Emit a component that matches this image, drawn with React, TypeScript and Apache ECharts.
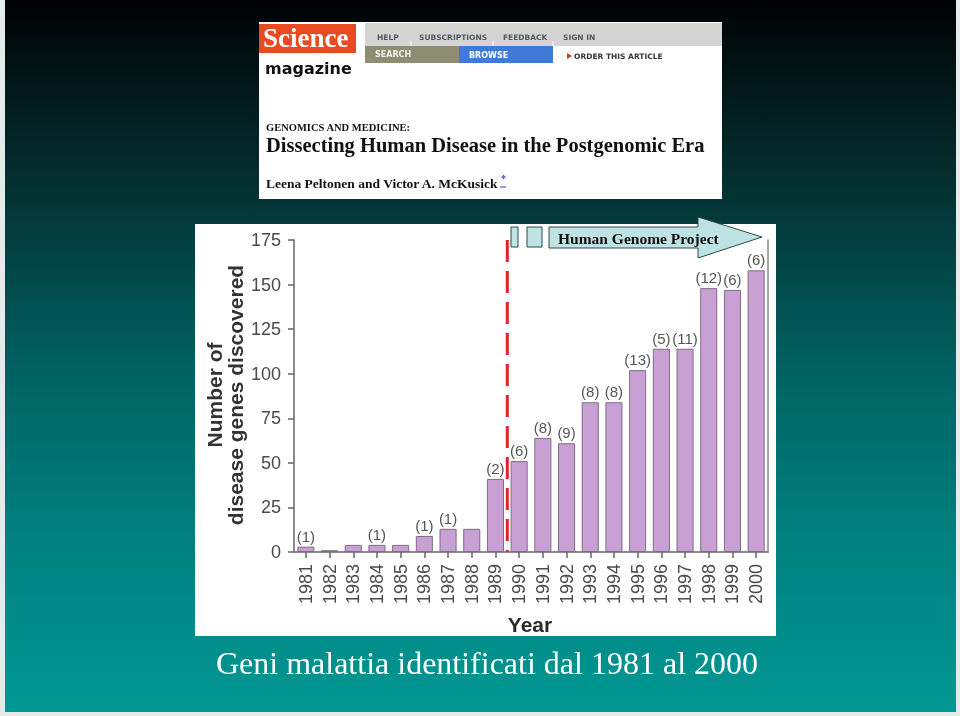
import React, { useEffect, useRef } from "react";
import * as echarts from "echarts";

// ---- data ----
const years = [
  "1981", "1982", "1983", "1984", "1985", "1986", "1987", "1988", "1989", "1990",
  "1991", "1992", "1993", "1994", "1995", "1996", "1997", "1998", "1999", "2000",
];
const genesDiscovered = [3, 1, 4, 4, 4, 9, 13, 13, 41, 51, 64, 61, 84, 84, 102, 114, 114, 148, 147, 158];
const bracketCounts: (number | null)[] = [1, null, null, 1, null, 1, 1, null, 2, 6, 8, 9, 8, 8, 13, 5, 11, 12, 6, 6];
const yMin = 0;
const yMax = 175;
const yInterval = 25;
const hgpBoundaryIndex = 9; // boundary between 1989 and 1990
const yAxisTitle = "Number of\ndisease genes discovered";
const xAxisTitle = "Year";
const hgpLabel = "Human Genome Project";
const slideTitle = "Geni malattia identificati dal 1981 al 2000";
const navItems = ["HELP", "SUBSCRIPTIONS", "FEEDBACK", "SIGN IN"];

const SANS = '"Liberation Sans", Arial, Helvetica, sans-serif';
const SERIF = '"Liberation Serif", "Times New Roman", serif';

export default function App() {
  const ref = useRef<HTMLDivElement>(null);

  useEffect(() => {
    if (!ref.current) return;
    const chart = echarts.init(ref.current, undefined, { renderer: "svg", width: 960, height: 716 });

    const navX = [377, 419, 503, 563];

    const graphic: any[] = [
      // slide frame + gradient background
      { type: "rect", z: -20, silent: true, shape: { x: 0, y: 0, width: 960, height: 716 }, style: { fill: "#e3ebeb" } },
      {
        type: "rect", z: -19, silent: true,
        shape: { x: 5, y: 0, width: 951, height: 712 },
        style: {
          fill: new echarts.graphic.LinearGradient(0, 0, 0, 1, [
            { offset: 0, color: "#000203" },
            { offset: 0.25, color: "#042e2f" },
            { offset: 0.5, color: "#015e5e" },
            { offset: 0.75, color: "#00807f" },
            { offset: 1, color: "#009792" },
          ]),
        },
      },
      // chart white panel
      { type: "rect", z: -18, silent: true, shape: { x: 195, y: 224, width: 581, height: 412 }, style: { fill: "#ffffff" } },

      // header (Science magazine)
      { type: "rect", z: -18, shape: { x: 259, y: 22, width: 463, height: 177 }, style: { fill: "#ffffff" } },
      { type: "rect", shape: { x: 259, y: 24, width: 97, height: 29 }, style: { fill: "#ea4a1f" } },
      { type: "text", x: 263, y: 38, style: { text: "Science", fill: "#ffffff", font: `bold 27px ${SERIF}`, align: "left", verticalAlign: "middle" } },
      { type: "rect", shape: { x: 365, y: 23, width: 357, height: 23 }, style: { fill: "#d4d4d4" } },
      { type: "rect", shape: { x: 365, y: 46, width: 94, height: 17 }, style: { fill: "#8f8c72" } },
      { type: "rect", shape: { x: 459, y: 46, width: 94, height: 17 }, style: { fill: "#3f7ad8" } },
      ...[411, 493, 553].map((x) => ({ type: "line", shape: { x1: x, y1: 41, x2: x, y2: 46 }, style: { stroke: "#ffffff", lineWidth: 1 } })),
      ...navItems.map((t, i) => ({
        type: "text", x: navX[i], y: 37.5,
        style: { text: t, fill: "#55585a", font: `bold 7.5px "DejaVu Sans", ${SANS}`, align: "left", verticalAlign: "middle" },
      })),
      { type: "text", x: 375, y: 54.5, style: { text: "SEARCH", fill: "#f2f2ea", font: `bold 8px "DejaVu Sans", ${SANS}`, align: "left", verticalAlign: "middle" } },
      { type: "text", x: 469, y: 55, style: { text: "BROWSE", fill: "#ffffff", font: `bold 8px "DejaVu Sans", ${SANS}`, align: "left", verticalAlign: "middle" } },
      { type: "polygon", shape: { points: [[567, 53], [572, 56], [567, 59]] }, style: { fill: "#e0301e" } },
      { type: "text", x: 574, y: 56, style: { text: "ORDER THIS ARTICLE", fill: "#333333", font: `bold 7.5px "DejaVu Sans", ${SANS}`, align: "left", verticalAlign: "middle" } },
      { type: "text", x: 265, y: 68.5, style: { text: "magazine", fill: "#111111", font: `bold 16px "DejaVu Sans", ${SANS}`, align: "left", verticalAlign: "middle" } },
      { type: "text", x: 266, y: 127, style: { text: "GENOMICS AND MEDICINE:", fill: "#111111", font: `bold 10.5px ${SERIF}`, align: "left", verticalAlign: "middle" } },
      { type: "text", x: 266, y: 145, style: { text: "Dissecting Human Disease in the Postgenomic Era", fill: "#111111", font: `bold 20.5px ${SERIF}`, align: "left", verticalAlign: "middle" } },
      { type: "text", x: 266, y: 183, style: { text: "Leena Peltonen and Victor A. McKusick", fill: "#111111", font: `bold 13.5px ${SERIF}`, align: "left", verticalAlign: "middle" } },
      { type: "text", x: 501, y: 178, style: { text: "*", fill: "#3535c8", font: `bold 10px ${SERIF}`, align: "left", verticalAlign: "middle" } },
      { type: "line", shape: { x1: 500, y1: 187, x2: 506, y2: 187 }, style: { stroke: "#3535c8", lineWidth: 1 } },

      // Human Genome Project arrow
      { type: "rect", shape: { x: 511, y: 227, width: 7, height: 20 }, style: { fill: "#bfe3e3", stroke: "#2b4a4e", lineWidth: 1 } },
      { type: "rect", shape: { x: 527, y: 227, width: 15, height: 20 }, style: { fill: "#bfe3e3", stroke: "#2b4a4e", lineWidth: 1 } },
      {
        type: "polygon",
        shape: { points: [[549, 227], [698, 227], [698, 217], [762, 237], [698, 258], [698, 248], [549, 248]] },
        style: { fill: "#bfe3e3", stroke: "#2b4a4e", lineWidth: 1 },
      },
      { type: "text", x: 558, y: 238, style: { text: hgpLabel, fill: "#111111", font: `bold 15.5px ${SERIF}`, align: "left", verticalAlign: "middle" } },

      // axis titles
      {
        type: "text", x: 225, y: 395, rotation: Math.PI / 2,
        style: { text: yAxisTitle, fill: "#333333", font: `bold 21px ${SANS}`, lineHeight: 21, align: "center", verticalAlign: "middle" },
      },
      { type: "text", x: 530, y: 624, style: { text: xAxisTitle, fill: "#2a2a2a", font: `bold 21px ${SANS}`, align: "center", verticalAlign: "middle" } },

      // slide title
      { type: "text", x: 487, y: 663, style: { text: slideTitle, fill: "#ffffff", font: `32px ${SERIF}`, align: "center", verticalAlign: "middle" } },
    ];

    const option: any = {
      animation: false,
      grid: { left: 294, right: 192, top: 240, bottom: 164, containLabel: false },
      xAxis: [
        {
          type: "category",
          data: years,
          boundaryGap: true,
          axisLine: { show: true, lineStyle: { color: "#666666", width: 1.5 } },
          axisTick: { show: true, alignWithLabel: true, length: 6, lineStyle: { color: "#666666", width: 1.5 } },
          axisLabel: { rotate: 90, margin: 12, color: "#4a4a4a", fontSize: 18, fontFamily: SANS, interval: 0 },
          splitLine: { show: false },
        },
        { type: "value", min: 0, max: years.length, show: false },
      ],
      yAxis: [
        {
          type: "value",
          min: yMin,
          max: yMax,
          interval: yInterval,
          offset: 4,
          axisLine: { show: true, lineStyle: { color: "#666666", width: 1.5 } },
          axisTick: { show: true, length: 6, lineStyle: { color: "#666666", width: 1.5 } },
          axisLabel: { margin: 9, color: "#4a4a4a", fontSize: 18, fontFamily: SANS },
          splitLine: { show: false },
        },
        {
          type: "value",
          min: yMin,
          max: yMax,
          position: "right",
          axisLine: { show: true, lineStyle: { color: "#8a8a8a", width: 1.5 } },
          axisTick: { show: false },
          axisLabel: { show: false },
          splitLine: { show: false },
        },
      ],
      series: [
        {
          type: "bar",
          data: genesDiscovered,
          xAxisIndex: 0,
          yAxisIndex: 0,
          barCategoryGap: "28%",
          itemStyle: { color: "#c9a0d3", borderColor: "#7f6c84", borderWidth: 1 },
          label: {
            show: true,
            position: "top",
            distance: 3,
            color: "#555555",
            fontSize: 15,
            fontFamily: SANS,
            formatter: (p: any) => {
              const c = bracketCounts[p.dataIndex];
              return c == null ? "" : `(${c})`;
            },
          },
        },
        {
          type: "line",
          xAxisIndex: 1,
          yAxisIndex: 0,
          data: [[hgpBoundaryIndex, yMax], [hgpBoundaryIndex, yMin]],
          symbol: "none",
          silent: true,
          lineStyle: { color: "#e3222b", width: 3, type: [22, 9] },
          z: 5,
        },
      ],
      graphic,
    };

    chart.setOption(option);
    return () => chart.dispose();
  }, []);

  return <div ref={ref} style={{ position: "fixed", left: 0, top: 0, width: 960, height: 716 }} />;
}
